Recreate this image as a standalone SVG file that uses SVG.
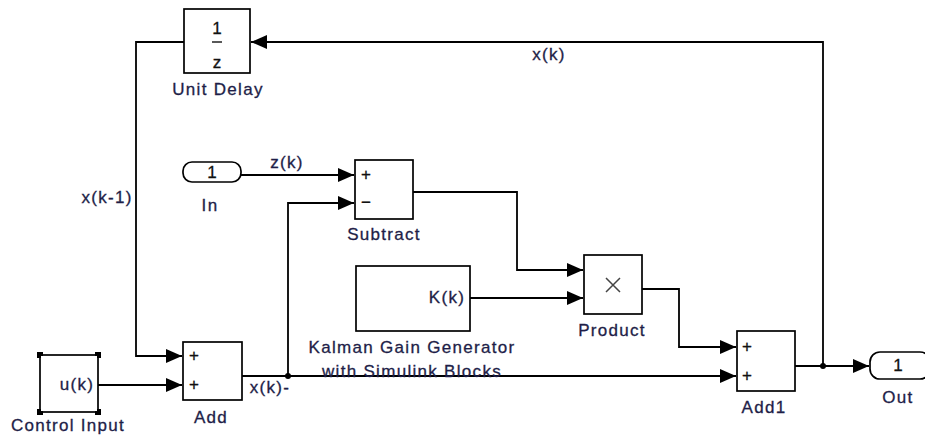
<svg xmlns="http://www.w3.org/2000/svg" width="925" height="442" viewBox="0 0 925 442">
<defs>
<style>
.blk{fill:#fff;stroke:#000;stroke-width:1.7}
.ln{fill:none;stroke:#000;stroke-width:1.8}
.t{font-family:"Liberation Sans",Arial,sans-serif;font-size:17px;letter-spacing:1.3px;fill:#1e1e48;stroke:#1e1e48;stroke-width:0.3;text-anchor:middle}
.s{font-family:"Liberation Sans",Arial,sans-serif;font-size:17px;fill:#111;stroke:#111;stroke-width:0.3;text-anchor:middle}
.h{fill:#000}
</style>
<marker id="ar" markerUnits="userSpaceOnUse" markerWidth="17" markerHeight="15" refX="16" refY="7" orient="auto">
<path d="M0,0 L16,7 L0,14 z" fill="#000"/>
</marker>
</defs>
<rect width="925" height="442" fill="#fff"/>

<g id="connectors">
<path class="ln" d="M795,366 H869" marker-end="url(#ar)"/>
<path class="ln" d="M823,366 V42 H251" marker-end="url(#ar)"/>
<path class="ln" d="M184,42 H136 V356 H182" marker-end="url(#ar)"/>
<path class="ln" d="M98,385 H182" marker-end="url(#ar)"/>
<path class="ln" d="M242,376 H736" marker-end="url(#ar)"/>
<path class="ln" d="M288,376 V203 H354" marker-end="url(#ar)"/>
<path class="ln" d="M241,175 H354" marker-end="url(#ar)"/>
<path class="ln" d="M413,192 H517 V270 H583" marker-end="url(#ar)"/>
<path class="ln" d="M470,298 H583" marker-end="url(#ar)"/>
<path class="ln" d="M642,289 H679 V347 H736" marker-end="url(#ar)"/>
<circle cx="288" cy="376" r="3" fill="#000"/>
<circle cx="823" cy="366" r="3" fill="#000"/>
<text class="t" x="549" y="60">x(k)</text>
<text class="t" x="287" y="168">z(k)</text>
<text class="t" x="107" y="203">x(k-1)</text>
<text class="t" x="270" y="393">x(k)-</text>
</g>

<g id="unit-delay">
<rect class="blk" x="184" y="9" width="66" height="64"/>
<text class="s" x="217" y="34">1</text>
<line x1="212" y1="42" x2="222" y2="42" stroke="#222" stroke-width="1.5"/>
<text class="s" x="217" y="68">z</text>
<text class="t" x="218" y="95">Unit Delay</text>
</g>

<g id="in">
<rect class="blk" x="183" y="162" width="58" height="20" rx="9"/>
<text class="s" x="212" y="178">1</text>
<text class="t" x="210" y="211">In</text>
</g>

<g id="subtract">
<rect class="blk" x="355" y="160" width="58" height="59"/>
<text class="s" x="366" y="180">+</text>
<text class="s" x="366" y="208">−</text>
<text class="t" x="384" y="240">Subtract</text>
</g>

<g id="kalman">
<rect class="blk" x="356" y="266" width="114" height="65"/>
<text class="t" x="447" y="303">K(k)</text>
<text class="t" x="412" y="353">Kalman Gain Generator</text>
<text class="t" x="412" y="377">with Simulink Blocks</text>
</g>

<g id="product">
<path d="M606,278 L620,292 M620,278 L606,292" stroke="#444" stroke-width="1.5" fill="none"/>
<rect class="blk" x="584" y="255" width="58" height="59" fill="none" style="fill:none"/>
<text class="t" x="612" y="336">Product</text>
</g>

<g id="control-input">
<rect class="blk" x="40" y="355" width="58" height="57"/>
<rect class="h" x="37" y="352" width="6" height="6"/>
<rect class="h" x="95" y="352" width="6" height="6"/>
<rect class="h" x="37" y="409" width="6" height="6"/>
<rect class="h" x="95" y="409" width="6" height="6"/>
<rect fill="#fff" x="41" y="356" width="2" height="2"/>
<rect fill="#fff" x="95" y="356" width="2" height="2"/>
<rect fill="#fff" x="41" y="409" width="2" height="2"/>
<rect fill="#fff" x="95" y="409" width="2" height="2"/>
<text class="t" x="77" y="390">u(k)</text>
<text class="t" x="68" y="431">Control Input</text>
</g>

<g id="add">
<rect class="blk" x="183" y="342" width="59" height="58"/>
<text class="s" x="194" y="361">+</text>
<text class="s" x="194" y="390">+</text>
<text class="t" x="211" y="423">Add</text>
</g>

<g id="add1">
<rect class="blk" x="737" y="331" width="58" height="60"/>
<text class="s" x="747" y="352">+</text>
<text class="s" x="747" y="381">+</text>
<text class="t" x="764" y="413">Add1</text>
</g>

<g id="out">
<rect class="blk" x="870" y="352" width="60" height="27" rx="10"/>
<text class="s" x="898" y="371">1</text>
<text class="t" x="898" y="403">Out</text>
</g>
</svg>
